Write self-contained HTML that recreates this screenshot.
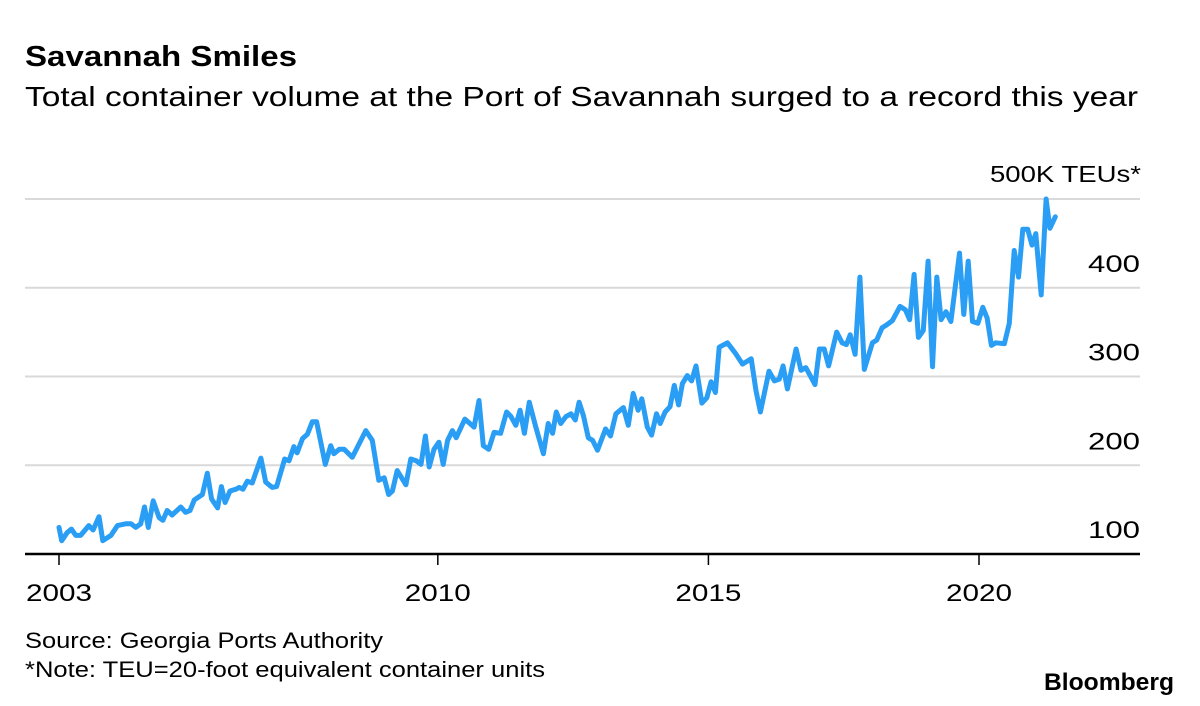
<!DOCTYPE html>
<html><head><meta charset="utf-8">
<style>
body{margin:0;background:#fff;width:1200px;height:706px;overflow:hidden;font-family:"Liberation Sans",sans-serif;}
svg{display:block}
</style></head>
<body>
<svg id="chart" width="1200" height="706" xmlns="http://www.w3.org/2000/svg" font-family="Liberation Sans, sans-serif">
<text x="25" y="66" font-size="29" font-weight="bold" fill="#000" textLength="272" lengthAdjust="spacingAndGlyphs">Savannah Smiles</text>
<text x="25" y="106" font-size="28" fill="#000" textLength="1113" lengthAdjust="spacingAndGlyphs">Total container volume at the Port of Savannah surged to a record this year</text>
<text x="1141" y="182" font-size="23" text-anchor="end" fill="#000" textLength="151" lengthAdjust="spacingAndGlyphs">500K TEUs*</text>
<g id="grid"></g>
<g id="xaxis"></g>
<g id="series"></g>
<text x="25" y="648" font-size="22" fill="#000" textLength="358" lengthAdjust="spacingAndGlyphs">Source: Georgia Ports Authority</text>
<text x="25" y="677" font-size="22" fill="#000" textLength="520" lengthAdjust="spacingAndGlyphs">*Note: TEU=20-foot equivalent container units</text>
<text x="1174" y="690" font-size="24" font-weight="bold" text-anchor="end" fill="#000" textLength="130" lengthAdjust="spacingAndGlyphs">Bloomberg</text>
</svg>
<script>
const yTicks=[100,200,300,400,500];
const yTickLabels=["100","200","300","400",""];
const xTicks=[2003,2010,2015,2020];
const xTickLabels=["2003","2010","2015","2020"];
const dates=[2003.00,2003.05,2003.15,2003.23,2003.31,2003.40,2003.55,2003.63,2003.74,2003.81,2003.96,2004.08,2004.23,2004.33,2004.42,2004.51,2004.58,2004.65,2004.74,2004.85,2004.92,2005.00,2005.09,2005.25,2005.34,2005.42,2005.50,2005.65,2005.74,2005.82,2005.93,2006.00,2006.07,2006.16,2006.27,2006.33,2006.40,2006.48,2006.57,2006.73,2006.82,2006.94,2007.02,2007.17,2007.25,2007.34,2007.40,2007.50,2007.59,2007.68,2007.76,2007.92,2008.02,2008.08,2008.18,2008.27,2008.42,2008.67,2008.79,2008.91,2009.01,2009.09,2009.16,2009.25,2009.41,2009.50,2009.60,2009.69,2009.77,2009.84,2009.93,2010.02,2010.10,2010.18,2010.27,2010.34,2010.50,2010.67,2010.76,2010.84,2010.94,2011.04,2011.16,2011.27,2011.35,2011.44,2011.52,2011.60,2011.69,2011.81,2011.95,2012.04,2012.12,2012.19,2012.27,2012.37,2012.46,2012.54,2012.61,2012.69,2012.78,2012.86,2012.95,2013.10,2013.19,2013.29,2013.43,2013.52,2013.61,2013.70,2013.77,2013.87,2013.95,2014.04,2014.11,2014.20,2014.29,2014.37,2014.45,2014.52,2014.61,2014.69,2014.77,2014.88,2014.97,2015.05,2015.13,2015.20,2015.35,2015.50,2015.63,2015.79,2015.88,2015.96,2016.12,2016.22,2016.31,2016.38,2016.46,2016.62,2016.71,2016.80,2016.97,2017.05,2017.14,2017.22,2017.37,2017.47,2017.55,2017.62,2017.71,2017.80,2017.88,2018.03,2018.11,2018.21,2018.29,2018.40,2018.54,2018.64,2018.72,2018.80,2018.88,2018.97,2019.06,2019.14,2019.22,2019.30,2019.39,2019.48,2019.64,2019.72,2019.80,2019.88,2019.98,2020.07,2020.15,2020.23,2020.31,2020.47,2020.56,2020.65,2020.73,2020.81,2020.90,2020.98,2021.05,2021.15,2021.24,2021.31,2021.41];
const teus=[130,115,124,128,121,121,132,127,142,115,121,132,134,134,130,134,153,130,160,141,138,149,144,153,147,149,161,167,191,162,152,176,158,171,173,175,173,182,180,208,181,175,176,207,205,221,214,230,235,249,249,201,222,213,218,218,209,239,228,183,186,167,171,194,178,207,205,201,233,198,218,226,201,228,239,231,252,243,273,222,218,237,236,260,255,245,262,236,271,243,213,247,236,260,247,255,258,251,271,256,231,228,217,241,233,258,265,245,281,262,275,243,234,258,247,260,266,290,268,292,301,295,312,270,276,294,282,333,338,326,314,320,284,260,306,295,297,312,286,331,307,310,291,331,331,312,350,338,336,347,325,412,308,338,341,355,358,363,379,375,364,415,344,352,430,311,412,364,373,362,439,370,430,362,360,378,366,335,338,337,360,442,412,466,466,448,461,392,500,467,480];

const NS="http://www.w3.org/2000/svg";
const L=25,R=1140,x0=59,x1=979,yTop=199,yBot=554;
function xs(y){return x0+(y-2003)*(x1-x0)/17;}
function ys(v){return yBot-(v-100)*(yBot-yTop)/400;}
function mk(tag,attrs,parent){const e=document.createElementNS(NS,tag);for(const k in attrs)e.setAttribute(k,attrs[k]);parent.appendChild(e);return e;}
const grid=document.getElementById('grid');
yTicks.forEach((v,i)=>{
  if(v!==100){
    const g=mk('line',{x1:L,x2:R,y1:ys(v),y2:ys(v),stroke:'#d9d9d9','stroke-width':2},grid);
    
    
  }
  if(yTickLabels[i]){
    const t=mk('text',{x:R,y:ys(v)-16,'font-size':24,'text-anchor':'end',fill:'#000',textLength:52,lengthAdjust:'spacingAndGlyphs'},grid);
    t.textContent=yTickLabels[i];
    
    
  }
});
const xa=document.getElementById('xaxis');
const ax=mk('line',{x1:L,x2:R,y1:yBot,y2:yBot,stroke:'#000','stroke-width':2.5},xa);


xTicks.forEach((yr,i)=>{
  const tk=mk('line',{x1:xs(yr),x2:xs(yr),y1:yBot,y2:yBot+11,stroke:'#000','stroke-width':1.5},xa);
  
  
  const t=mk('text',{x:xs(yr),y:601,'font-size':24,'text-anchor':'middle',fill:'#000',textLength:66,lengthAdjust:'spacingAndGlyphs'},xa);
  t.textContent=xTickLabels[i];
  
  
});
const s=document.getElementById('series');
let d='';
dates.forEach((yr,i)=>{d+=(i?'L':'M')+xs(yr).toFixed(1)+','+ys(teus[i]).toFixed(1);});
const p=mk('path',{d:d,fill:'none',stroke:'#2a9df4','stroke-width':5,'stroke-linejoin':'round','stroke-linecap':'round'},s);


</script>
</body></html>
